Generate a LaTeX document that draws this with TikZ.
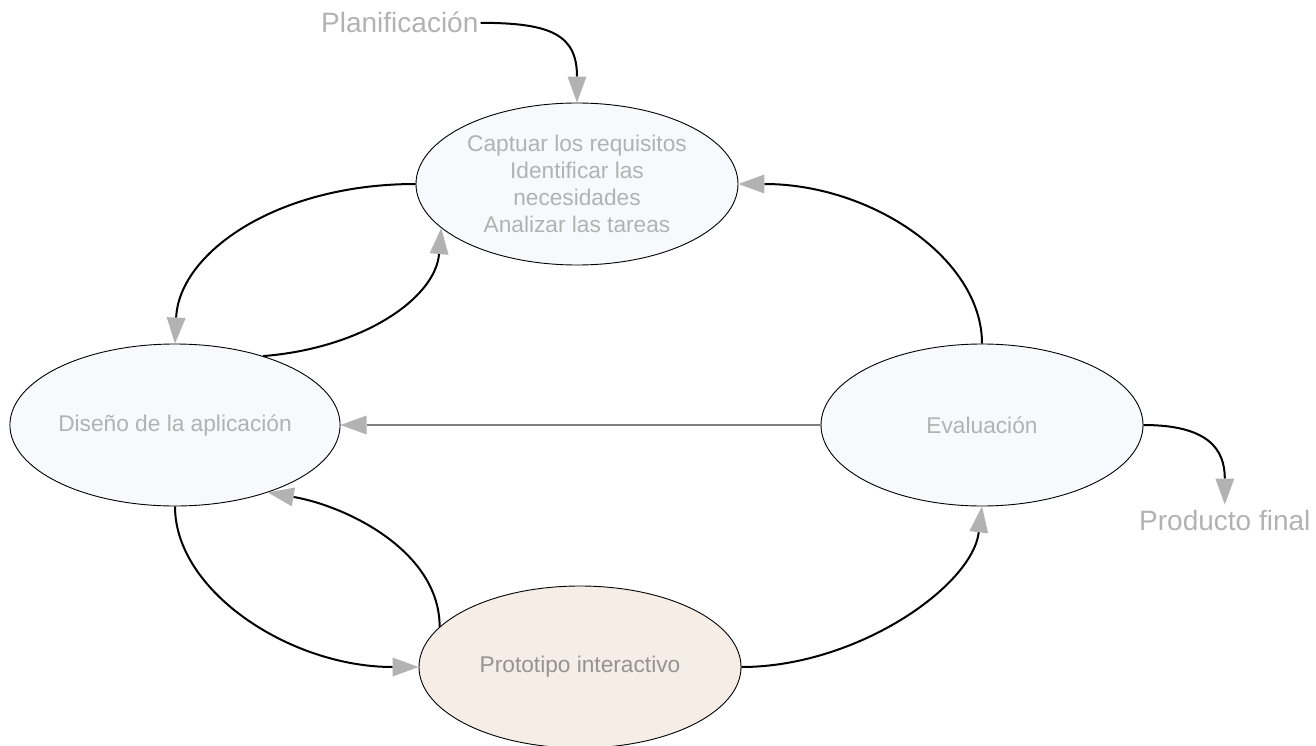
\documentclass[tikz,border=0pt]{standalone}
\usepackage{fontspec}
\setmainfont{Liberation Sans}
\usetikzlibrary{shapes.geometric,arrows.meta}
\definecolor{txtgray}{RGB}{178,178,178}
\definecolor{prototxt}{RGB}{152,147,143}
\definecolor{arrowgray}{RGB}{178,178,178}
\definecolor{linegray}{RGB}{128,128,128}
\definecolor{bluefill}{RGB}{248,249,253}
\definecolor{protofill}{RGB}{245,237,230}
\tikzset{
  stage/.style={ellipse, draw=black, line width=0.9pt, fill=bluefill,
    minimum width=322pt, minimum height=162pt, inner sep=0pt,
    text=txtgray, align=center, font=\fontsize{22.7}{27}\selectfont},
  freelabel/.style={inner sep=0pt, text=txtgray, font=\fontsize{28}{33}\selectfont},
  flow/.style={line width=2pt, draw=black,
    -{Triangle[length=26pt,width=19pt,color=arrowgray,line width=0pt]}},
  backflow/.style={line width=1.4pt, draw=linegray,
    -{Triangle[length=26pt,width=19pt,color=arrowgray,line width=0pt]}}
}
\begin{document}
\begin{tikzpicture}[x=1pt,y=-1pt]
\useasboundingbox (0,0) rectangle (1316,746);
\node[stage] (top) at (577,184) {Captuar los requisitos\\Identificar las\\necesidades\\Analizar las tareas};
\node[stage] (dis) at (175,425) {Diseño de la aplicación};
\node[stage] (eval) at (982,425) {Evaluación};
\node[stage, fill=protofill, text=prototxt] (proto) at (580,667) {Prototipo interactivo};
\node[freelabel, anchor=base west] (plan) at (321,33) {Planificación};
\node[freelabel, anchor=base west] (prod) at (1139,530) {Producto final};

\draw[flow] ([xshift=2pt]plan.east) .. controls +(70,0) and +(0,-68) .. (top.north);
\draw[flow] (top.west) .. controls +(-140,0) and +(4,-90) .. (dis.north);
\draw[flow] (dis.38) .. controls +(100,-8) and +(-6,70) .. (top.198);
\draw[flow] (eval.north) .. controls +(0,-85) and +(133,0) .. (top.east);
\draw[backflow] (eval.west) -- (dis.east);
\draw[flow] (dis.south) .. controls +(0,85) and +(-128,0) .. (proto.west);
\draw[flow] (proto.164) .. controls +(0,-75) and +(80,14) .. (dis.-36);
\draw[flow] (proto.east) .. controls +(115,0) and +(-10,80) .. (eval.south);
\draw[flow] (eval.east) .. controls +(65,0) and +(0,-55) .. ([yshift=5pt]prod.north);
\end{tikzpicture}
\end{document}
